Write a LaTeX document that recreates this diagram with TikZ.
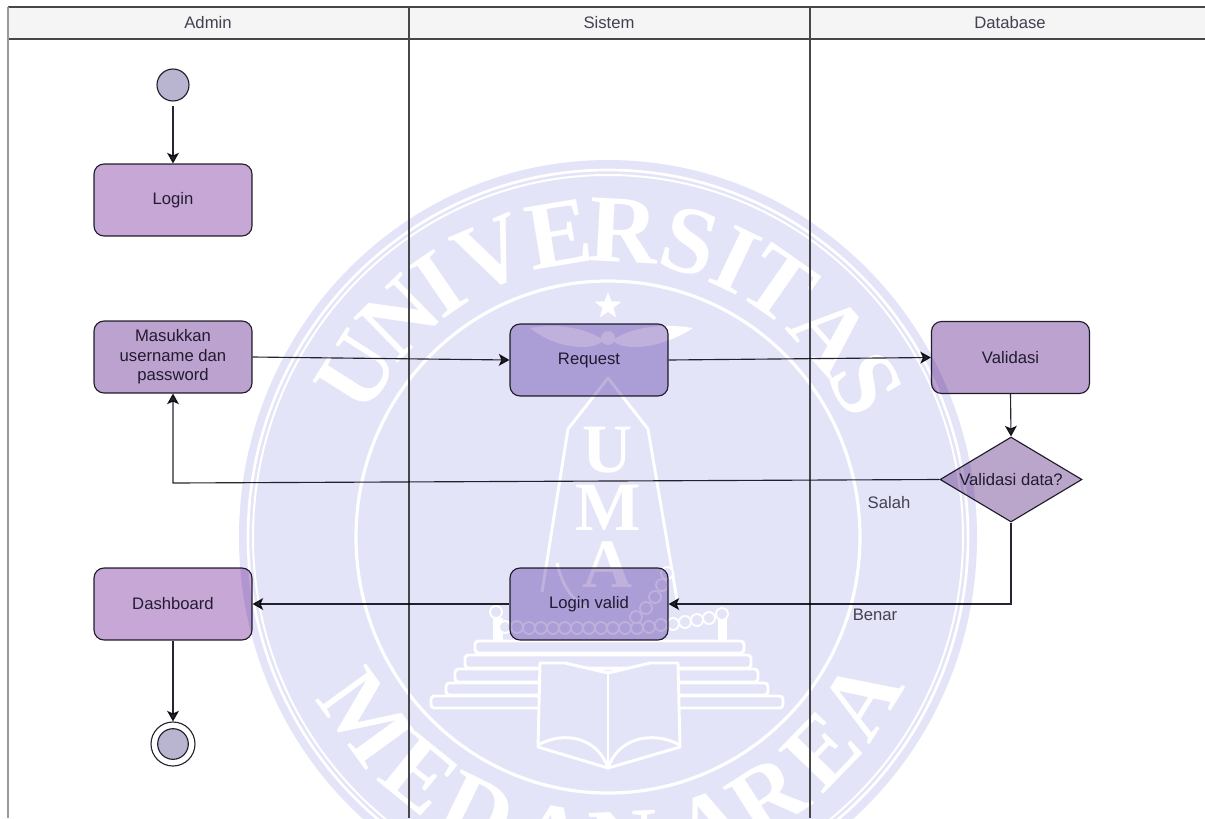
\documentclass[tikz,border=0pt]{standalone}
\usepackage{fontspec}
\setmainfont{Liberation Sans}
\newfontfamily\wmfont{Liberation Serif}
\usetikzlibrary{arrows.meta,shapes.geometric,calc}
\definecolor{diskc}{HTML}{E4E4F8}
\definecolor{boxa}{HTML}{C6A7D6}
\definecolor{boxb}{HTML}{BCA2CE}
\definecolor{boxc}{HTML}{C0B0DC}
\definecolor{dia}{HTML}{BBA6CB}
\definecolor{circ}{HTML}{B9B5D0}
\definecolor{ink}{HTML}{2F2B3C}
\definecolor{edge}{HTML}{262530}
\definecolor{lanehead}{HTML}{F5F5F5}
\tikzset{
  x=0.75pt,y=-0.75pt,
  txt/.style={font=\fontsize{12.5pt}{14.5pt}\selectfont,text=ink,align=center},
  act/.style={txt,draw=edge,line width=0.85pt,rounded corners=7.5pt,minimum width=118.5pt,minimum height=54pt,inner sep=0pt},
  acta/.style={act,fill=boxa},
  actb/.style={act,fill=boxb},
  actc/.style={act,fill=boxc},
  dec/.style={txt,diamond,draw=edge,line width=0.85pt,fill=dia,shape aspect=1.7,inner sep=0pt,minimum width=106.5pt,minimum height=63.75pt},
  lab/.style={txt,text=ink!90!white},
  head/.style={txt,text=ink!90!white},
  flow/.style={draw=edge,line width=0.85pt,-{Stealth[length=8pt,width=9pt,inset=2pt]}},
  lane/.style={draw=black!72,line width=0.85pt},
  wm/.style={font=\wmfont\bfseries\fontsize{72pt}{72pt}\selectfont,text=white,inner sep=0pt},
  wmm/.style={font=\wmfont\bfseries\fontsize{52pt}{52pt}\selectfont,text=white,inner sep=0pt},
  wl/.style={draw=white,line width=2.2pt,line join=round},
  step band/.style={wl,fill=diskc,rounded corners=2.5pt},
  bead/.style={circle,draw=white,line width=1.4pt,fill=diskc,minimum size=9pt,inner sep=0pt}
}
\begin{document}
\begin{tikzpicture}
\useasboundingbox (0,0) rectangle (1205,818);
\clip (0,0) rectangle (1205,818);
\fill[white] (0,0) rectangle (1205,818);
% watermark
\def\cx{608}\def\cy{537}
\fill[diskc] (\cx,\cy) ellipse [x radius=369,y radius=377];
\draw[white,line width=2pt] (\cx,\cy) ellipse [x radius=360,y radius=367];
\draw[white,line width=1.5pt] (\cx,\cy) ellipse [x radius=355,y radius=362];
\draw[white,line width=2.4pt] (\cx,\cy) ellipse [x radius=252,y radius=256];
\foreach \l/\a in {U/147.5,N/134.5,I/124.5,V/113,E/99.5,R/87,S/74,I/64.5,T/55,A/41.5,S/30}{
  \node[wm,rotate=\a-90] at ({\cx+298*cos(\a)},{\cy-307*sin(\a)}) {\l};
}
\foreach \l/\a in {M/216,E/231,D/244,A/259,N/273,A/290,R/302.5,E/316,A/328}{
  \node[wm,rotate=\a+90] at ({\cx+298*cos(\a)},{\cy-307*sin(\a)}) {\l};
}
\node[star,star points=5,star point ratio=2.4,fill=white,minimum size=21pt,inner sep=0pt] (wmstar) at (608,306) {};
\fill[white] (530,328) .. controls (560,322) and (590,330) .. (603,340) .. controls (598,350) and (560,352) .. (530,328) -- cycle;
\fill[white] (693,328) .. controls (656,322) and (626,330) .. (613,340) .. controls (618,350) and (656,352) .. (693,328) -- cycle;
\fill[white] (608,338) circle (7);
\draw[wl] (542,592) -- (568,429) -- (608,378) -- (648,429) -- (677,600);
\node[wmm] (wmu) at (608,450) {U};
\node[wmm] (wmm) at (608,508) {M};
\node[wmm] (wma) at (608,565) {A};
\fill[white] (493,618) rectangle (503,642);
\fill[white] (718,618) rectangle (727,642);
\foreach \x/\y in {496/612,505/627,517/627,529/628,541/628,553/628,565/628,577/628,589/628,601/628,613/628,625/628,637/628,649/627,661/625,673/624,685/622,697/620,709/618,722/614,667/573,662/585,655/597,646/608,636/617}{
  \node[bead] at (\x,\y) {};
}
\draw[wl] (557,563) .. controls (562,585) and (572,600) .. (587,608);
\draw[step band] (475,641) rectangle (744,653);
\draw[step band] (465,655) rectangle (751,668);
\draw[step band] (455,669) rectangle (758,682);
\draw[step band] (446,683) rectangle (768,695);
\draw[step band] (431,696) rectangle (783,708);
\draw[wl,fill=diskc] (540,663) -- (565,663) -- (608,673) -- (650,663) -- (678,663) -- (680,747) -- (608,768) -- (538,747) -- cycle;
\draw[wl] (608,673) -- (608,768);
\draw[wl] (538,745) .. controls (565,730) and (598,738) .. (608,768) .. controls (618,738) and (652,730) .. (680,745);
% lanes
\fill[lanehead] (8,7) rectangle (1205,39);
\draw[lane] (8,7) -- (1205,7);
\draw[lane] (8,39) -- (1205,39);
\draw[lane] (409,7) -- (409,818);
\draw[lane] (810,7) -- (810,818);
\draw[draw=black!40,line width=1.5pt] (8,7) -- (8,818);
\node[head] (hadmin) at (208,23) {Admin};
\node[head] (hsistem) at (609,23) {Sistem};
\node[head] (hdb) at (1010,23) {Database};
% diagram
\begin{scope}[blend mode=multiply]
\node[circle,draw=edge,line width=0.85pt,fill=circ,minimum size=24pt,inner sep=0pt] (start) at (173,85) {};
\node[acta] (login) at (173,200) {Login};
\node[actb] (masuk) at (173,357) {Masukkan\\username dan\\password};
\node[actc] (request) at (589,360) {Request};
\node[actb] (valid) at (1010.5,357.5) {Validasi};
\node[dec] (cek) at (1011,479.5) {Validasi data?};
\node[actc] (lvalid) at (589,604) {Login valid};
\node[acta] (dash) at (173,604) {Dashboard};
\node[circle,draw=edge,line width=0.85pt,fill=white,minimum size=33pt,inner sep=0pt] (endo) at (173,744) {};
\node[circle,draw=edge,line width=0.85pt,fill=circ,minimum size=23pt,inner sep=0pt] (endi) at (173,744) {};
\coordinate (startgap) at (173,106);
\coordinate (bendl) at (173,483);
\coordinate (bendr) at (1011,604);
\draw[flow] (startgap) -- (login.north);
\draw[flow] (masuk.east) -- (request.west);
\draw[flow] (request.east) -- (valid.west);
\draw[flow] (valid.south) -- (cek.north);
\draw[flow] (cek.west) -- (bendl) -- (masuk.south);
\draw[flow] (cek.south) -- (bendr) -- (lvalid.east);
\draw[flow] (lvalid.west) -- (dash.east);
\draw[flow] (dash.south) -- (endo.north);
\end{scope}
\node[lab] (salah) at (889,503) {Salah};
\node[lab] (benar) at (875,615) {Benar};
\end{tikzpicture}
\end{document}
